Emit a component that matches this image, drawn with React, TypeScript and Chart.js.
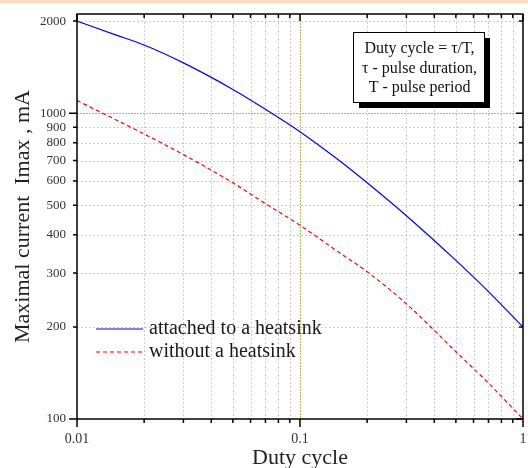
import React, { useEffect, useRef } from "react";
import { Chart, registerables } from "chart.js";

Chart.register(...registerables);

const dutyCycle = [0.01, 0.015, 0.02, 0.03, 0.05, 0.07, 0.1, 0.15, 0.2, 0.3, 0.5, 0.7, 1];
const withHeatsink = [2000, 1800, 1670, 1460, 1196, 1030, 870, 700, 592, 462, 330, 261, 200];
const withoutHeatsink = [1100, 950, 855, 732, 592, 506, 430, 350, 303, 238, 166, 131, 100];

const xTicks = [0.01, 0.02, 0.03, 0.04, 0.05, 0.06, 0.07, 0.08, 0.09, 0.1, 0.2, 0.3, 0.4, 0.5, 0.6, 0.7, 0.8, 0.9, 1];
const xMajor = [0.01, 0.1, 1];
const xLabels = ["0.01", "0.1", "1"];
const yTicks = [100, 200, 300, 400, 500, 600, 700, 800, 900, 1000, 2000];
const yMajor = [100, 1000];

const legendLabels = ["attached to a heatsink", "without a heatsink"];
const noteLines = ["Duty cycle = \u03c4/T,", "\u03c4 - pulse duration,", "T - pulse period"];

const FONT = "'Liberation Serif', 'DejaVu Serif', serif";

const decorPlugin = {
  id: "decor",
  beforeDatasetsDraw(chart: any) {
    const { ctx, chartArea: a, scales } = chart;
    const xs = scales.x, ys = scales.y;
    ctx.save();
    ctx.lineWidth = 1;
    xTicks.forEach((v) => {
      if (v === 0.01 || v === 1) return;
      const px = Math.round(xs.getPixelForValue(v)) + 0.5;
      const special = v === 0.1;
      ctx.strokeStyle = special ? "#b8b860" : "#cccccc";
      ctx.setLineDash(special ? [2, 1] : [2, 2]);
      ctx.beginPath();
      ctx.moveTo(px, a.top);
      ctx.lineTo(px, a.bottom);
      ctx.stroke();
    });
    yTicks.forEach((v) => {
      if (v === 100) return;
      const py = Math.round(ys.getPixelForValue(v)) + 0.5;
      const special = v === 1000;
      ctx.strokeStyle = special ? "#b8b860" : "#cccccc";
      ctx.setLineDash(special ? [2, 1] : [2, 2]);
      ctx.beginPath();
      ctx.moveTo(a.left, py);
      ctx.lineTo(a.right, py);
      ctx.stroke();
    });
    ctx.restore();
  },
  afterDatasetsDraw(chart: any) {
    const { ctx, chartArea: a, scales } = chart;
    const xs = scales.x, ys = scales.y;
    ctx.save();
    ctx.setLineDash([]);
    ctx.strokeStyle = "#000";
    ctx.lineWidth = 1.5;
    ctx.strokeRect(a.left, a.top, a.right - a.left, a.bottom - a.top);
    ctx.beginPath();
    xTicks.forEach((v) => {
      const px = xs.getPixelForValue(v);
      const major = xMajor.includes(v);
      ctx.moveTo(px, a.bottom);
      ctx.lineTo(px, a.bottom + (major ? 8 : 4));
      ctx.moveTo(px, a.top);
      ctx.lineTo(px, a.top + (major ? 7 : 4));
    });
    yTicks.forEach((v) => {
      const py = ys.getPixelForValue(v);
      const major = yMajor.includes(v);
      ctx.moveTo(a.left, py);
      ctx.lineTo(a.left - (major ? 8 : 4), py);
      ctx.moveTo(a.right, py);
      ctx.lineTo(a.right - (major ? 7 : 4), py);
    });
    ctx.stroke();

    // legend
    const lx0 = a.left + 19, lx1 = a.left + 66;
    const ly = [a.top + 315, a.top + 338];
    ctx.lineWidth = 1.2;
    ctx.strokeStyle = "#0000ff";
    ctx.beginPath();
    ctx.moveTo(lx0, ly[0]);
    ctx.lineTo(lx1, ly[0]);
    ctx.stroke();
    ctx.strokeStyle = "#ff0000";
    ctx.setLineDash([4, 3]);
    ctx.beginPath();
    ctx.moveTo(lx0, ly[1]);
    ctx.lineTo(lx1, ly[1]);
    ctx.stroke();
    ctx.setLineDash([]);
    ctx.fillStyle = "#1a1a1a";
    ctx.font = `20px ${FONT}`;
    ctx.textBaseline = "middle";
    ctx.textAlign = "left";
    legendLabels.forEach((t, i) => ctx.fillText(t, lx1 + 6, ly[i]));

    // note box
    const bx = a.left + 276, by = a.top + 18, bw = 131, bh = 70;
    ctx.fillStyle = "#000";
    ctx.fillRect(bx + 6, by + 6, bw, bh);
    ctx.fillStyle = "#fff";
    ctx.fillRect(bx, by, bw, bh);
    ctx.lineWidth = 1;
    ctx.strokeStyle = "#000";
    ctx.strokeRect(bx + 0.5, by + 0.5, bw, bh);
    ctx.fillStyle = "#111";
    ctx.font = `16px ${FONT}`;
    ctx.textAlign = "center";
    noteLines.forEach((t, i) => ctx.fillText(t, bx + bw / 2 + 1, by + 17 + i * 19.5));
    ctx.restore();
  },
};

export default function App() {
  const ref = useRef<HTMLCanvasElement>(null);
  useEffect(() => {
    document.body.style.margin = "0";
    const chart = new Chart(ref.current!, {
      type: "line",
      data: {
        datasets: [
          {
            label: legendLabels[0],
            data: dutyCycle.map((x, i) => ({ x, y: withHeatsink[i] })),
            borderColor: "#0000ff",
            borderWidth: 1.2,
            pointRadius: 0,
            cubicInterpolationMode: "monotone",
          },
          {
            label: legendLabels[1],
            data: dutyCycle.map((x, i) => ({ x, y: withoutHeatsink[i] })),
            borderColor: "#ff0000",
            borderWidth: 1.2,
            borderDash: [4, 3],
            pointRadius: 0,
            cubicInterpolationMode: "monotone",
          },
        ],
      },
      options: {
        responsive: false,
        animation: false,
        layout: { padding: { top: 14, right: 5, left: 0, bottom: 0 } },
        plugins: { legend: { display: false }, tooltip: { enabled: false } },
        scales: {
          x: {
            type: "logarithmic",
            min: 0.01,
            max: 1,
            afterBuildTicks: (s: any) => {
              s.ticks = xTicks.map((v) => ({ value: v }));
            },
            afterFit: (s: any) => {
              s.height = 49;
              s.paddingRight = 0;
              s.paddingLeft = 0;
            },
            ticks: {
              autoSkip: false,
              maxRotation: 0,
              padding: 6,
              color: "#333",
              font: { family: FONT, size: 14 },
              callback: (v: any) => {
                const i = xMajor.indexOf(Number(v));
                return i >= 0 ? xLabels[i] : "";
              },
            },
            grid: { display: false, drawTicks: true, tickLength: 6 },
            border: { display: false },
            title: {
              display: true,
              text: "Duty cycle",
              color: "#222",
              font: { family: FONT, size: 22 },
              padding: { top: 0, bottom: -3 },
            },
          },
          y: {
            type: "logarithmic",
            min: 100,
            max: 2110,
            afterBuildTicks: (s: any) => {
              s.ticks = yTicks.map((v) => ({ value: v }));
            },
            afterFit: (s: any) => {
              s.width = 77;
              s.paddingTop = 0;
              s.paddingBottom = 0;
            },
            ticks: {
              autoSkip: false,
              padding: 5,
              color: "#333",
              font: { family: FONT, size: 13 },
              callback: (v: any) => String(v),
            },
            grid: { display: false, drawTicks: true, tickLength: 6 },
            border: { display: false },
            title: {
              display: true,
              text: "Maximal current  Imax , mA",
              color: "#222",
              font: { family: FONT, size: 22 },
              padding: { top: 10, bottom: 0 },
            },
          },
        },
      },
      plugins: [decorPlugin],
    });
    return () => chart.destroy();
  }, []);
  return (
    <div style={{ position: "absolute", left: 0, top: 0, width: 528, height: 468, background: "#fff" }}>
      <div style={{ position: "absolute", left: 0, top: 0, width: 528, height: 3, background: "#ffdac6" }} />
      <canvas ref={ref} width={528} height={468} style={{ display: "block" }} />
    </div>
  );
}
